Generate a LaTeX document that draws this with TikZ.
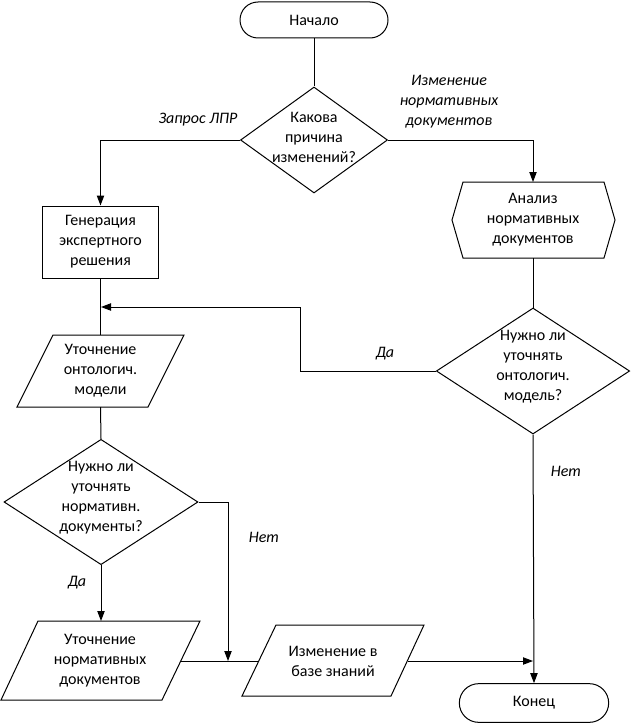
\documentclass[tikz,border=0pt]{standalone}
\usepackage{fontspec}
\setmainfont{Carlito}
\usetikzlibrary{shapes.geometric,arrows.meta}
\begin{document}
\begin{tikzpicture}[x=0.75pt,y=-0.75pt,
  every node/.style={font=\fontsize{12}{15}\selectfont, align=center, inner sep=0pt},
  line/.style={line width=0.75pt},
  arr/.style={line width=0.75pt, -{Triangle[length=7.5pt,width=5.5pt]}},
  shp/.style={draw, line width=0.75pt, line join=miter},
  term/.style={shp, rectangle, rounded corners=13.5pt},
  proc/.style={shp, rectangle},
  dia/.style={shp, diamond},
  lab/.style={font=\fontsize{12}{15}\selectfont\itshape}
]
\useasboundingbox (0,0) rectangle (631,724);

% terminals and process
\node[term, minimum width=111pt, minimum height=27pt] (start) at (314,20) {Начало};
\node[proc, minimum width=86.5pt, minimum height=54pt] (gen) at (100.5,242) {Генерация\\экспертного\\решения};
\node[term, minimum width=112pt, minimum height=29pt, rounded corners=14.5pt] (end) at (534,703) {Конец};

% decisions
\node[dia, minimum width=110.25pt, minimum height=79.5pt] (d1) at (314,140) {};
\node (t1) at (314,137) {Какова\\причина\\изменений?};
\node[dia, minimum width=145pt, minimum height=94.5pt] (d2) at (533,371) {};
\node (t2) at (533,367) {Нужно ли\\уточнять\\онтологич.\\модель?};
\node[dia, minimum width=145.5pt, minimum height=94pt] (d3) at (101,502) {};
\node (t3) at (101,498) {Нужно ли\\уточнять\\нормативн.\\документы?};

% hexagon (preparation)
\draw[shp] (452,220) -- (463,182) -- (604,182) -- (615,220) -- (604,258) -- (463,258) -- cycle;
\coordinate (hexn) at (533,182);
\coordinate (hexs) at (533,258);
\node (th) at (533,220) {Анализ\\нормативных\\документов};

% parallelograms (data)
\draw[shp] (53,335) -- (184,335) -- (148,407) -- (17,407) -- cycle;
\coordinate (p1n) at (100.5,335);
\coordinate (p1s) at (100.5,407);
\node (tp1) at (100.5,371) {Уточнение\\онтологич.\\модели};

\draw[shp] (38,621) -- (200,621) -- (162,700) -- (1,700) -- cycle;
\coordinate (p2n) at (101,621);
\coordinate (p2e) at (181,661);
\node (tp2) at (100,661) {Уточнение\\нормативных\\документов};

\draw[shp] (276,625) -- (424,625) -- (391,696) -- (242,696) -- cycle;
\coordinate (p3w) at (259,661);
\coordinate (p3e) at (408,661);
\node (tp3) at (333,661) {Изменение в\\базе знаний};

% junctions
\coordinate (j1) at (101,307);
\coordinate (jy) at (300,307);
\coordinate (j2) at (228,661);
\coordinate (j3) at (533,661);

% connectors
\draw[line] (start.south) -- (d1.north);
\draw[arr] (d1.west) -| (gen.north);
\draw[arr] (d1.east) -| (hexn);
\draw[line] (gen.south) -- (p1n);
\draw[line] (hexs) -- (d2.north);
\draw[arr] (d2.west) -| (jy) -- (j1);
\draw[line] (p1s) -- (d3.north);
\draw[arr] (d3.south) -- (p2n);
\draw[arr] (d3.east) -| (j2);
\draw[line] (p2e) -- (p3w);
\draw[arr] (p3e) -- (j3);
\draw[arr] (d2.south) -- (end.north);

% labels
\node[lab] (l1) at (198,120) {Запрос ЛПР};
\node[lab] (l2) at (449,102) {Изменение\\нормативных\\документов};
\node[lab] (l3) at (385,354) {Да};
\node[lab] (l4) at (566,471) {Нет};
\node[lab] (l5) at (264,537) {Нет};
\node[lab] (l6) at (77,583) {Да};
\end{tikzpicture}
\end{document}
